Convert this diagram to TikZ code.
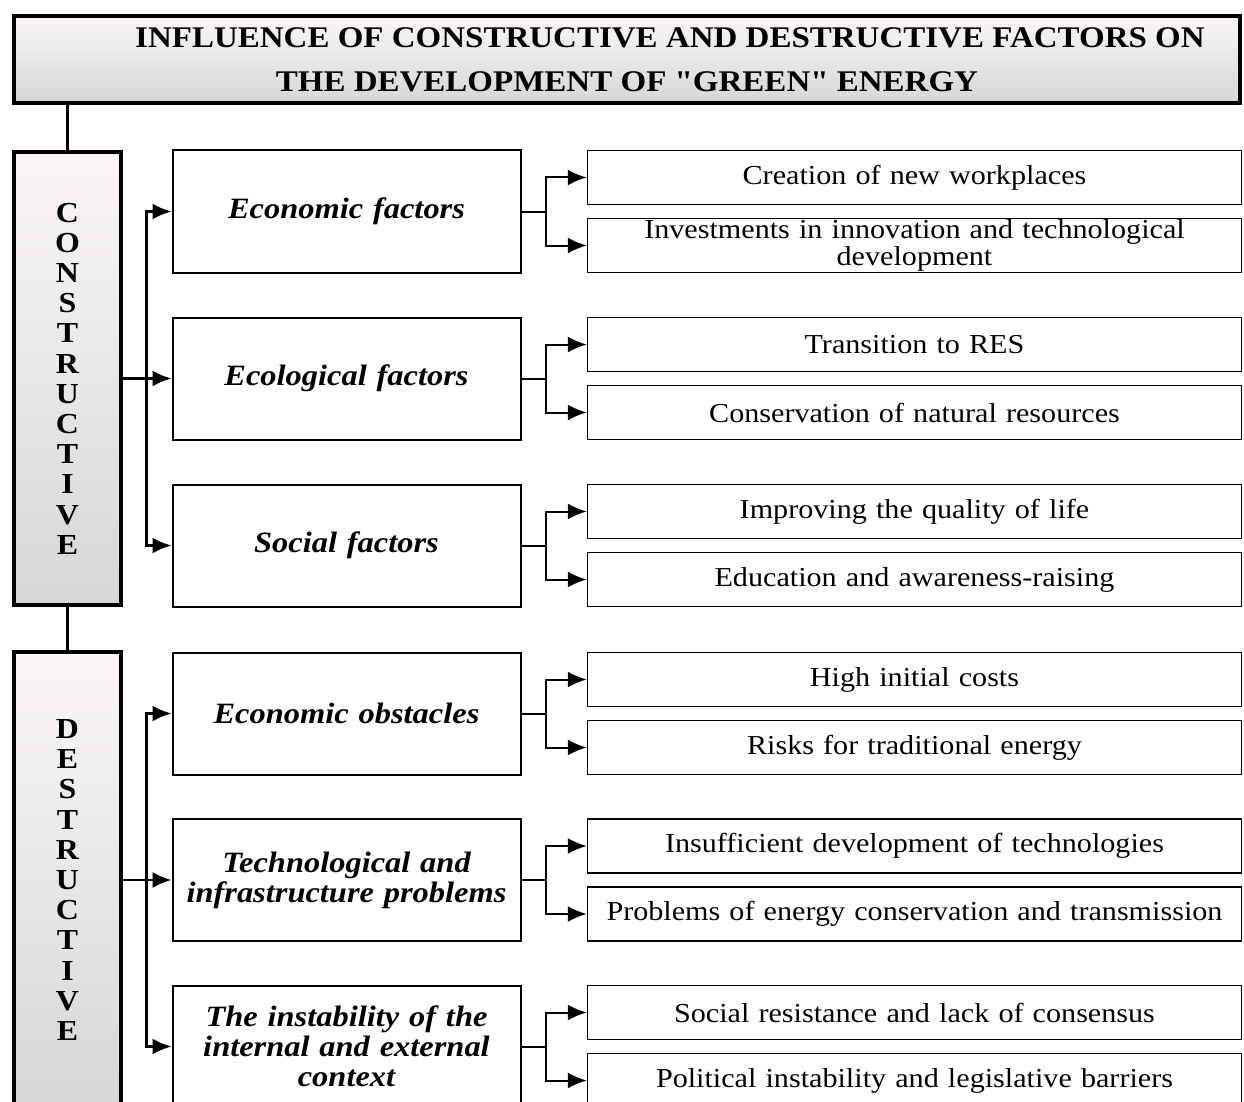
\documentclass[tikz,border=0pt]{standalone}
\usepackage{fontspec}
\setmainfont[FakeStretch=1.1, Ligatures=TeXOff]{Liberation Serif}
\usetikzlibrary{arrows.meta, positioning}
\definecolor{shadetop}{HTML}{FAF6F6}
\definecolor{shadebot}{HTML}{D7D7D7}
\tikzset{>={Latex[length=19pt,width=16pt]},
  head/.style={draw, line width=4pt, top color=shadetop, bottom color=shadebot,
    minimum width=1226pt, minimum height=87pt, inner sep=0pt, align=center,
    font=\bfseries\fontsize{30}{44}\selectfont},
  side/.style={draw, line width=4pt, top color=shadetop, bottom color=shadebot,
    minimum width=107pt, minimum height=453pt, inner sep=0pt, align=center,
    font=\bfseries\fontsize{29}{30.2}\selectfont},
  factor/.style={draw, line width=2pt, minimum width=348pt, minimum height=122pt,
    text width=340pt, inner sep=0pt, align=center,
    font=\bfseries\itshape\fontsize{29.5}{30}\selectfont},
  item/.style={draw, line width=1.5pt, minimum width=654pt, minimum height=54pt,
    text width=640pt, inner sep=0pt, align=center,
    font=\fontsize{27.4}{27}\selectfont},
  link/.style={line width=2.5pt},
  branch/.style={line width=2pt},
}

\begin{document}
\begin{tikzpicture}[x=1pt, y=-1pt]
    \useasboundingbox (0,0) rectangle (1244,1102);
    \clip (0,0) rectangle (1244,1102);
    \node[head] (title) at (627,59.5)
        {\hspace*{86pt}INFLUENCE OF CONSTRUCTIVE AND DESTRUCTIVE FACTORS ON\\
         THE DEVELOPMENT OF "GREEN" ENERGY};
    % left column
    \node[side] (cons) at (67.5,378.5) {C\\O\\N\\S\\T\\R\\U\\C\\T\\I\\V\\E};
    \node[side, minimum height=456pt] (dest) at (67.5,880) {D\\E\\S\\T\\R\\U\\C\\T\\I\\V\\E};
    % factor boxes
    \node[factor] (ecof) at (346.5,211.5) {Economic factors};
    \node[factor] (ecol) at (346.5,378.5) {Ecological factors};
    \node[factor] (soc)  at (346.5,545.5) {Social factors};
    \node[factor] (ecob) at (346.5,713.5) {Economic obstacles};
    \node[factor] (tech) at (346.5,880) {Technological and\\ infrastructure problems};
    \node[factor] (inst) at (346.5,1046.5) {The instability of the\\ internal and external\\ context};
    % items
    \node[item] (jobs)     at (914.5,177.5) {Creation of new workplaces};
    \node[item] (invest)   at (914.5,245.5) {Investments in innovation and technological\\ development};
    \node[item] (res)      at (914.5,344.5) {Transition to RES};
    \node[item] (conserv)  at (914.5,412.5) {Conservation of natural resources};
    \node[item] (life)     at (914.5,511.5) {Improving the quality of life};
    \node[item] (educ)     at (914.5,579.5) {Education and awareness-raising};
    \node[item] (costs)    at (914.5,679.5) {High initial costs};
    \node[item] (risks)    at (914.5,747.5) {Risks for traditional energy};
    \node[item] (techdev)  at (914.5,846) {Insufficient development of technologies};
    \node[item] (storage)  at (914.5,914) {Problems of energy conservation and transmission};
    \node[item] (resist)   at (914.5,1012.5) {Social resistance and lack of consensus};
    \node[item] (politics) at (914.5,1080.5) {Political instability and legislative barriers};

    \draw[link] (title.south -| cons.north) -- (cons.north);
    \draw[link] (cons.south) -- (dest.north);
    \draw[link,->] (cons.east) -- (ecol.west);
    \draw[link,<->] (ecof.west) -- ++(-25,0) |- (soc.west);
    \draw[link,->] (dest.east) -- (tech.west);
    \draw[link,<->] (ecob.west) -- ++(-25,0) |- (inst.west);

    \draw[branch] (ecof.east) -- ++(25,0);
    \draw[branch,<->] (jobs.west) -- ++(-41,0) |- (invest.west);
    \draw[branch] (ecol.east) -- ++(25,0);
    \draw[branch,<->] (res.west) -- ++(-41,0) |- (conserv.west);
    \draw[branch] (soc.east) -- ++(25,0);
    \draw[branch,<->] (life.west) -- ++(-41,0) |- (educ.west);
    \draw[branch] (ecob.east) -- ++(25,0);
    \draw[branch,<->] (costs.west) -- ++(-41,0) |- (risks.west);
    \draw[branch] (tech.east) -- ++(25,0);
    \draw[branch,<->] (techdev.west) -- ++(-41,0) |- (storage.west);
    \draw[branch] (inst.east) -- ++(25,0);
    \draw[branch,<->] (resist.west) -- ++(-41,0) |- (politics.west);
\end{tikzpicture}
\end{document}
